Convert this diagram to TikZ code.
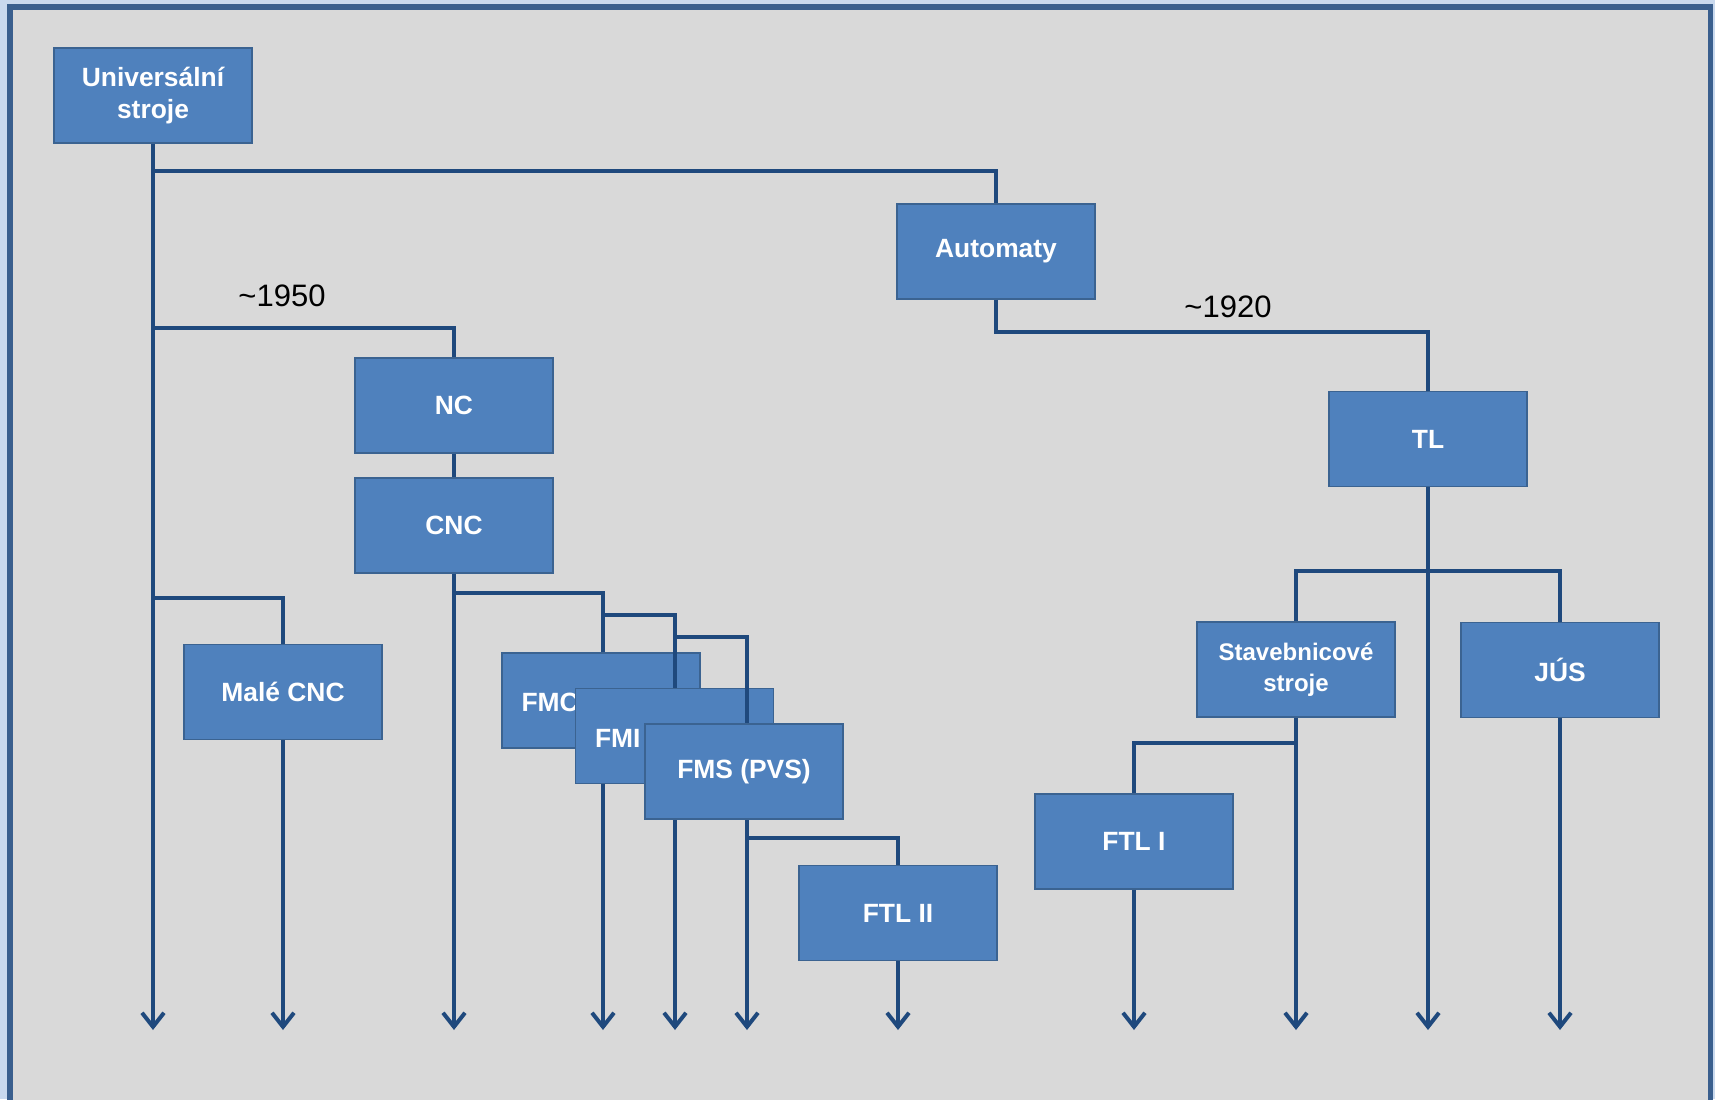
\documentclass[tikz,border=0pt]{standalone}
\usepackage{fontspec}
\setmainfont{Liberation Sans}
\usetikzlibrary{arrows.meta,calc}
\definecolor{boxfill}{HTML}{4F81BD}
\definecolor{boxline}{HTML}{3B6391}
\definecolor{conn}{HTML}{1F497D}
\definecolor{panel}{HTML}{D9D9D9}
\definecolor{frame}{HTML}{3A5F8E}
\definecolor{outside}{HTML}{C9D9EE}
\tikzset{
  box/.style={draw=boxline, line width=0.9pt, fill=boxfill, text=white,
    font=\bfseries\fontsize{13.2}{16}\selectfont, align=center,
    minimum width=99pt, minimum height=47.5pt, inner sep=0pt},
  boxlbl/.style={text=white, font=\bfseries\fontsize{13.2}{16}\selectfont, inner sep=0pt},
  conn/.style={draw=conn, line width=1.6pt},
  arr/.style={conn, -{Straight Barb[length=7pt,width=11pt,line width=2pt]}},
  yearlbl/.style={font=\fontsize{15.5}{18}\selectfont, text=black, inner sep=0pt}
}
\begin{document}
\begin{tikzpicture}[x=0.5pt,y=-0.5pt]
\useasboundingbox (0,0) rectangle (1715,1099);
\fill[outside] (0,0) rectangle (1715,1099);
\filldraw[fill=panel, draw=frame, line width=2.8pt] (10,7) rectangle (1710.5,1115);

% nodes (non-overlapping)
\node[box] (u) at (153,95.5) {Universální\\stroje};
\node[box] (aut) at (996,251.5) {Automaty};
\node[box] (nc) at (454,405.5) {NC};
\node[box] (cnc) at (454,525.5) {CNC};
\node[box] (male) at (283,692) {Malé CNC};
\node[box] (ftl2) at (898,913) {FTL II};
\node[box] (tl) at (1428,439) {TL};
\node[box, font=\bfseries\fontsize{12}{15.5}\selectfont] (stav) at (1296,669.5) {Stavebnicové\\stroje};
\node[box] (jus) at (1560,670) {JÚS};
\node[box] (ftl1) at (1134,841.5) {FTL I};

\node[yearlbl] (y1950) at (282,296) {\textasciitilde1950};
\node[yearlbl] (y1920) at (1228,307) {\textasciitilde1920};

% left trunk
\coordinate (uend) at (153,1030);
\draw[arr] (u.south) -- (uend);
\coordinate (b1) at (153,171);
\coordinate (b2) at (153,328);
\coordinate (b3) at (153,598);
\draw[conn] (b1) -| (aut.north);
\draw[conn] (b2) -| (nc.north);
\draw[conn] (b3) -| (male.north);
\draw[conn] (nc.south) -- (cnc.north);

% Automaty -> TL
\coordinate (ab) at (996,332);
\draw[conn] (aut.south) -- (ab) -| (tl.north);

% CNC trunk and F-cluster
\coordinate (cncend) at (454,1030);
\draw[arr] (cnc.south) -- (cncend);
\coordinate (c1) at (454,593);
\coordinate (c1end) at (603,1030);
\draw[arr] (c1) -| (c1end);
\node[box] (fmc) at (601,700.5) {};
\node[boxlbl, anchor=west] (fmcl) at ($(fmc.west)+(20,2)$) {FMC};
\coordinate (c2) at (603,615);
\coordinate (c2end) at (675,1030);
\draw[arr] (c2) -| (c2end);
\node[box] (fmi) at (674.5,736) {};
\node[boxlbl, anchor=west] (fmil) at ($(fmi.west)+(20,2)$) {FMI};
\coordinate (c3) at (675,637);
\coordinate (c3end) at (747,1030);
\draw[arr] (c3) -| (c3end);
\node[box] (fms) at (744,771.5) {FMS (PVS)};
\coordinate (c4) at (747,838);
\draw[conn] (c4) -| (ftl2.north);
\draw[arr] (ftl2.south) -- (898,1030);

% Malé CNC
\draw[arr] (male.south) -- (283,1030);

% right side
\draw[arr] (tl.south) -- (1428,1030);
\coordinate (t1) at (1296,571);
\draw[conn] (stav.north) -- (t1) -| (jus.north);
\draw[arr] (jus.south) -- (1560,1030);
\draw[arr] (stav.south) -- (1296,1030);
\coordinate (s1) at (1296,743);
\draw[conn] (s1) -| (ftl1.north);
\draw[arr] (ftl1.south) -- (1134,1030);
\end{tikzpicture}
\end{document}
